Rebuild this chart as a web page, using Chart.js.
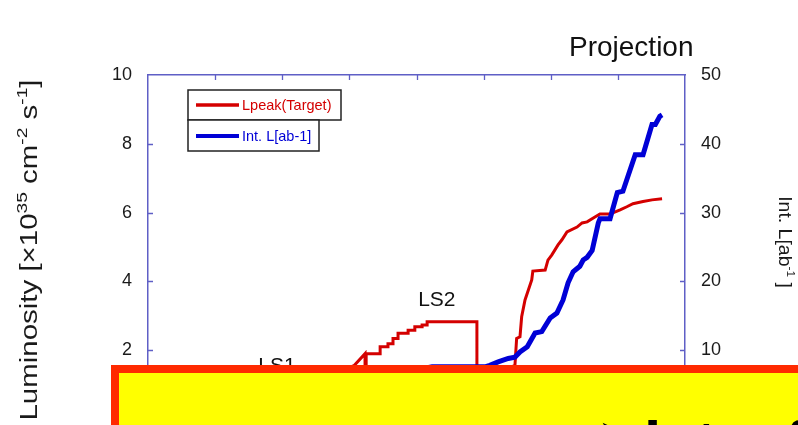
<!DOCTYPE html>
<html>
<head>
<meta charset="utf-8">
<script src="https://cdn.jsdelivr.net/npm/chart.js@4/dist/chart.umd.min.js"></script>
<style>
  html, body { margin: 0; padding: 0; background: #ffffff; }
  #wrap { width: 798px; height: 425px; position: relative; overflow: hidden; }
</style>
</head>
<body>
<div id="wrap"><canvas id="c" width="798" height="425"></canvas></div>
<script>
// Time axis in months from the start of the plan; ticks every 12 months
const xMin = 0, xMax = 96, xStep = 12;

// Peak luminosity target [x10^35 cm^-2 s^-1]
const lpeakMonths = [0, 2, 5, 9, 13, 18, 24, 30, 34, 36.9, 38.8, 38.8, 39.0, 39.0, 41.5, 41.5, 42.9, 42.9, 43.8, 43.8,
  44.7, 44.7, 46.5, 46.5, 47.7, 47.7, 49.0, 49.0, 49.9, 49.9, 58.8, 58.8, 62, 65.6, 65.9, 66.5, 66.8, 67.4, 68.6,
  68.8, 71.0, 71.5, 72.2, 73.3, 74.0, 74.9, 76.7, 77.6, 78.5, 79.9, 80.8, 82.6, 83.1, 84.4, 85.6, 86.7, 88.5, 90.1, 91.9];
const lpeakValues = [0.2, 0.5, 0.8, 1.0, 1.15, 1.25, 1.3, 1.35, 1.35, 1.56, 1.90, 1.1, 1.1, 1.90, 1.90, 2.10, 2.10, 2.19, 2.19, 2.34,
  2.34, 2.49, 2.49, 2.58, 2.58, 2.68, 2.68, 2.73, 2.73, 2.83, 2.83, 1.2, 1.3, 1.56, 2.34, 2.39, 2.97, 3.46, 4.04,
  4.30, 4.33, 4.62, 4.77, 5.06, 5.21, 5.44, 5.58, 5.70, 5.73, 5.87, 5.96, 5.96, 5.99, 6.08, 6.17, 6.26, 6.32, 6.37, 6.40];

// Integrated luminosity [ab^-1]
const intMonths = [0, 6, 12, 18, 24, 30, 36, 42, 47, 50.8, 60.4, 61.1, 62.6, 64.4, 65.6, 66.5, 67.8, 69.2, 70.4, 71.9,
  73.1, 74.2, 75.1, 76.0, 77.2, 77.8, 78.5, 79.4, 80.5, 80.8, 82.6, 83.9, 84.9, 87.1, 88.5, 90.1, 90.7, 91.5, 91.9];
const intValues = [0, 0.4, 1.0, 1.8, 2.8, 3.8, 4.9, 6.0, 7.0, 7.6, 7.6, 7.8, 8.3, 8.8, 9.0, 9.75, 10.5, 12.5, 12.7, 14.7,
  15.4, 17.3, 19.8, 21.4, 22.2, 23.1, 23.5, 24.5, 28.5, 29.1, 29.1, 32.9, 33.1, 38.4, 38.4, 42.8, 42.8, 44.0, 44.2];

// Axis ranges and tick steps
const leftMin = 0, leftMax = 10, leftStep = 2;
const rightMin = 0, rightMax = 50, rightStep = 10;

// Phase labels: [text, month, value on the left axis at the baseline]
const phaseLabels = [["LS1", 19.7, 1.38], ["LS2", 48.3, 3.28]];

const seriesNames = ["Lpeak(Target)", "Int. L[ab-1]"];

const FONT = '"Liberation Sans", Arial, Helvetica, sans-serif';
const AXIS_COLOR = '#5f5fc6';
const RED = '#d40000';
const BLUE = '#0000d6';
const CLEAR = 'rgba(0,0,0,0)';

const toPoints = (xs, ys) => xs.map((x, i) => ({ x: x, y: ys[i] }));

// Inward tick marks on the frame, placed through the chart's own scales
const frameTicks = {
  id: 'frameTicks',
  afterDatasetsDraw(chart) {
    const { ctx, chartArea: a, scales } = chart;
    const len = 5;
    ctx.save();
    ctx.strokeStyle = AXIS_COLOR;
    ctx.lineWidth = 1.3;
    ctx.beginPath();
    for (let v = xMin + xStep; v < xMax; v += xStep) {
      const px = Math.round(scales.xTop.getPixelForValue(v)) + 0.5;
      ctx.moveTo(px, a.top); ctx.lineTo(px, a.top + len);
      ctx.moveTo(px, a.bottom); ctx.lineTo(px, a.bottom - len);
    }
    for (let v = leftMin + leftStep; v < leftMax; v += leftStep) {
      const py = Math.round(scales.y.getPixelForValue(v)) + 0.5;
      ctx.moveTo(a.left, py); ctx.lineTo(a.left + len, py);
    }
    for (let v = rightMin + rightStep; v < rightMax; v += rightStep) {
      const py = Math.round(scales.y2.getPixelForValue(v)) + 0.5;
      ctx.moveTo(a.right, py); ctx.lineTo(a.right - len, py);
    }
    ctx.stroke();
    ctx.restore();
  }
};

// Draws text pieces in sequence; pieces marked sup are raised and smaller
function drawRuns(ctx, runs, size, supSize, color) {
  let x = 0;
  ctx.fillStyle = color;
  ctx.textBaseline = 'alphabetic';
  ctx.textAlign = 'left';
  for (const r of runs) {
    ctx.font = (r.sup ? supSize : size) + 'px ' + FONT;
    ctx.fillText(r.t, x, r.sup ? -size * 0.42 : 0);
    x += ctx.measureText(r.t).width;
  }
  return x;
}
function runsWidth(ctx, runs, size, supSize) {
  let w = 0;
  for (const r of runs) {
    ctx.font = (r.sup ? supSize : size) + 'px ' + FONT;
    w += ctx.measureText(r.t).width;
  }
  return w;
}

const decorations = {
  id: 'decorations',
  afterDraw(chart) {
    const { ctx, scales } = chart;
    ctx.save();

    // Left axis title, rotated and widened along its reading direction
    const leftTitle = [{ t: 'Luminosity [×10' }, { t: '35', sup: true }, { t: ' cm' }, { t: '-2', sup: true },
      { t: ' s' }, { t: '-1', sup: true }, { t: ']' }];
    const lStretch = 1.28;
    const lw = runsWidth(ctx, leftTitle, 23, 15) * lStretch;
    ctx.save();
    ctx.translate(37, 250 + lw / 2);
    ctx.rotate(-Math.PI / 2);
    ctx.scale(lStretch, 1);
    drawRuns(ctx, leftTitle, 23, 15, '#1a1a1a');
    ctx.restore();

    // Right axis title, rotated the other way
    const rightTitle = [{ t: 'Int. L[ab' }, { t: '-1', sup: true }, { t: ' ]' }];
    const rStretch = 1.08;
    const rw = runsWidth(ctx, rightTitle, 18, 11) * rStretch;
    ctx.save();
    ctx.translate(779, 242 - rw / 2);
    ctx.rotate(Math.PI / 2);
    ctx.scale(rStretch, 1);
    drawRuns(ctx, rightTitle, 18, 11, '#1a1a1a');
    ctx.restore();

    // Heading above the right part of the plot
    ctx.font = '28px ' + FONT;
    ctx.fillStyle = '#111111';
    ctx.textAlign = 'left';
    ctx.textBaseline = 'alphabetic';
    ctx.fillText('Projection', 569, 56);

    // Phase labels
    ctx.font = '21px ' + FONT;
    ctx.textAlign = 'left';
    for (const [txt, m, v] of phaseLabels) {
      ctx.fillText(txt, scales.x.getPixelForValue(m), scales.y.getPixelForValue(v));
    }

    // Legend: two stacked boxes
    const legend = [
      { box: [188, 90, 153, 30], color: RED, lw: 3.5, y: 105, label: seriesNames[0] },
      { box: [188, 120, 131, 31], color: BLUE, lw: 4, y: 136, label: seriesNames[1] }
    ];
    for (const l of legend) {
      ctx.fillStyle = '#ffffff';
      ctx.fillRect(...l.box);
      ctx.strokeStyle = '#222222';
      ctx.lineWidth = 1.5;
      ctx.strokeRect(...l.box);
    }
    for (const l of legend) {
      ctx.strokeStyle = l.color;
      ctx.lineWidth = l.lw;
      ctx.beginPath();
      ctx.moveTo(196, l.y); ctx.lineTo(239, l.y);
      ctx.stroke();
      ctx.fillStyle = l.color;
      ctx.font = '14.5px ' + FONT;
      ctx.textBaseline = 'middle';
      ctx.fillText(l.label, 242, l.y + 1);
    }

    // Callout box along the bottom
    ctx.fillStyle = '#ff2a00';
    ctx.fillRect(111, 365, 700, 80);
    ctx.fillStyle = '#ffff00';
    ctx.fillRect(119, 373, 700, 80);
    ctx.fillStyle = '#000000';
    ctx.textBaseline = 'alphabetic';
    ctx.textAlign = 'left';
    ctx.font = 'bold 62px ' + FONT;
    ctx.fillText('➤', 598, 464);
    ctx.fillText('late  fall', 644, 464);

    ctx.restore();
  }
};

// Value axes: labels are offset by an invisible tick mark, so no extra layout padding is reserved
function valueAxis(position, min, max, step, width) {
  return {
    type: 'linear', position: position, min: min, max: max,
    ticks: { stepSize: step, padding: 0, color: '#1a1a1a', font: { family: FONT, size: 18, lineHeight: 0.5 } },
    grid: { display: true, drawOnChartArea: false, drawTicks: true, tickLength: 16, color: CLEAR, tickColor: CLEAR },
    border: { display: true, color: AXIS_COLOR, width: 1.5 },
    afterFit(s) { s.width = width; }
  };
}

new Chart(document.getElementById('c'), {
  type: 'line',
  data: {
    datasets: [
      {
        label: seriesNames[1],
        data: toPoints(intMonths, intValues),
        borderColor: BLUE,
        borderWidth: 5,
        pointRadius: 0,
        tension: 0,
        xAxisID: 'x',
        yAxisID: 'y2',
        order: 0
      },
      {
        label: seriesNames[0],
        data: toPoints(lpeakMonths, lpeakValues),
        borderColor: RED,
        borderWidth: 3,
        pointRadius: 0,
        tension: 0,
        xAxisID: 'x',
        yAxisID: 'y',
        order: 1
      }
    ]
  },
  options: {
    responsive: false,
    animation: false,
    events: [],
    layout: { padding: 0 },
    plugins: { legend: { display: false }, tooltip: { enabled: false } },
    scales: {
      x: {
        type: 'linear', position: 'bottom', min: xMin, max: xMax,
        ticks: { display: false },
        grid: { display: false },
        border: { display: true, color: AXIS_COLOR, width: 1.5 },
        afterFit(s) { s.height = 6; }
      },
      xTop: {
        type: 'linear', position: 'top', min: xMin, max: xMax,
        ticks: { display: false, stepSize: xStep },
        grid: { display: false },
        border: { display: true, color: AXIS_COLOR, width: 1.5 },
        afterFit(s) { s.height = 75; }
      },
      y: valueAxis('left', leftMin, leftMax, leftStep, 148),
      y2: valueAxis('right', rightMin, rightMax, rightStep, 113)
    }
  },
  plugins: [frameTicks, decorations]
});
</script>
</body>
</html>
